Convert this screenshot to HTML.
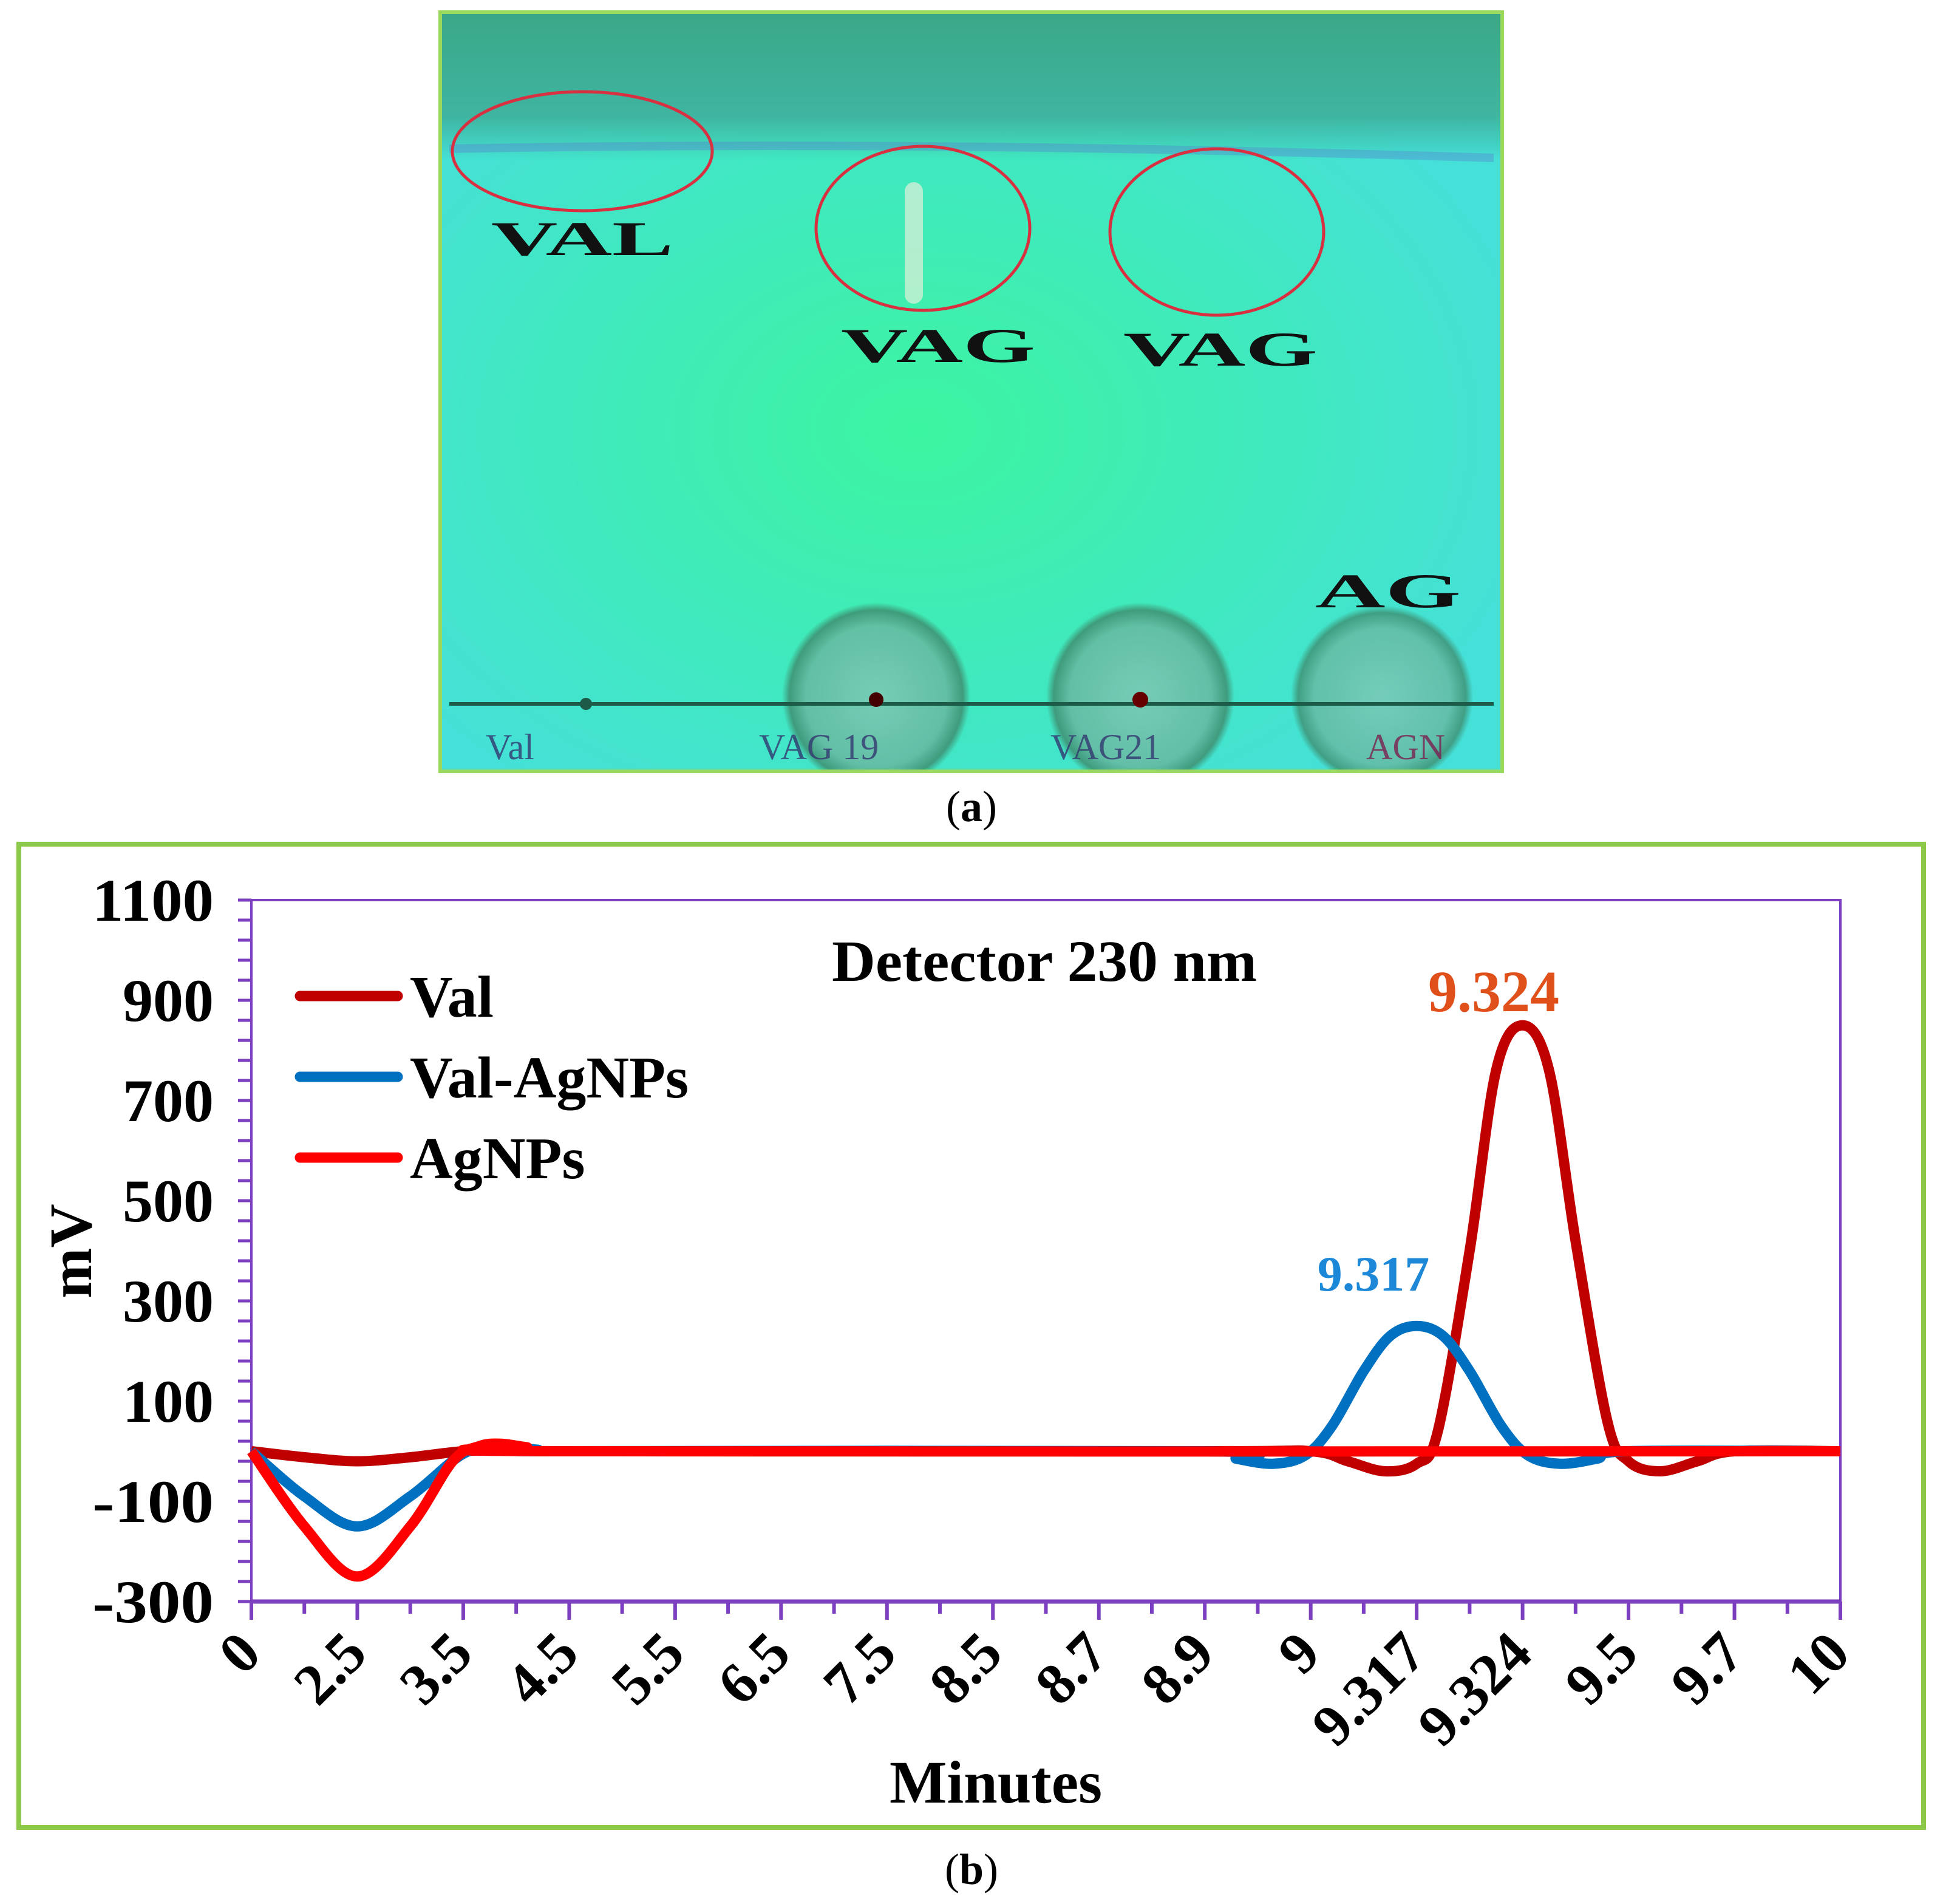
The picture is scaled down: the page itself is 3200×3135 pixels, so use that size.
<!DOCTYPE html>
<html><head><meta charset="utf-8">
<style>
html,body{margin:0;padding:0;background:#fff;width:3200px;height:3135px;overflow:hidden}
svg text{font-family:"Liberation Serif",serif}
</style></head>
<body>
<svg width="3200" height="3135" viewBox="0 0 3200 3135" xmlns="http://www.w3.org/2000/svg">
<defs>
<radialGradient id="glow" cx="0.45" cy="0.55" r="0.6">
<stop offset="0" stop-color="#3cf5a0"/><stop offset="0.6" stop-color="#40e8c0"/><stop offset="1" stop-color="#45e0d8"/>
</radialGradient>
<linearGradient id="topband" x1="0" y1="0" x2="0" y2="1">
<stop offset="0" stop-color="#3aa888"/><stop offset="0.7" stop-color="#3fb4a0"/><stop offset="1" stop-color="#3fb4a0" stop-opacity="0"/>
</linearGradient>
<radialGradient id="disc"><stop offset="0" stop-color="#80c8b4"/><stop offset="0.75" stop-color="#68b8a0"/><stop offset="0.92" stop-color="#3f8e70"/><stop offset="1" stop-color="#3f8e70" stop-opacity="0"/></radialGradient>
<clipPath id="photoclip"><rect x="725" y="20" width="1749" height="1250"/></clipPath>
</defs>
<g>
<rect x="725" y="20" width="1749" height="1250" fill="url(#glow)"/>
<g clip-path="url(#photoclip)">
<rect x="728" y="23" width="1743" height="240" fill="url(#topband)"/>
<path d="M740 245 Q1500 230 2460 260" stroke="#5a78d0" stroke-width="14" fill="none" opacity="0.35"/>
<circle cx="1443" cy="1147" r="155" fill="url(#disc)" opacity="0.85"/>
<circle cx="1878" cy="1147" r="155" fill="url(#disc)" opacity="0.85"/>
<circle cx="2276" cy="1147" r="150" fill="url(#disc)" opacity="0.8"/>
<line x1="740" y1="1159" x2="2460" y2="1159" stroke="#1d5a48" stroke-width="6"/>
<circle cx="965" cy="1159" r="10" fill="#1d5a48"/>
<circle cx="1443" cy="1152" r="12" fill="#400"/>
<circle cx="1878" cy="1152" r="13" fill="#600"/>
<rect x="1490" y="300" width="30" height="200" fill="#fff0e0" opacity="0.6" rx="15"/>
</g>
<rect x="725" y="20" width="1749" height="1250" fill="none" stroke="#9ad860" stroke-width="6"/>
<ellipse cx="959" cy="249" rx="214" ry="98" fill="none" stroke="#d83040" stroke-width="5"/>
<ellipse cx="1520" cy="376" rx="176" ry="135" fill="none" stroke="#d83040" stroke-width="5"/>
<ellipse cx="2004" cy="382" rx="176" ry="137" fill="none" stroke="#d83040" stroke-width="5"/>
<text x="959" y="420" font-size="80" font-weight="bold" text-anchor="middle" fill="#111" textLength="300" lengthAdjust="spacingAndGlyphs">VAL</text>
<text x="1545" y="596" font-size="80" font-weight="bold" text-anchor="middle" fill="#111" textLength="320" lengthAdjust="spacingAndGlyphs">VAG</text>
<text x="2010" y="602" font-size="80" font-weight="bold" text-anchor="middle" fill="#111" textLength="320" lengthAdjust="spacingAndGlyphs">VAG</text>
<text x="2286" y="1000" font-size="80" font-weight="bold" text-anchor="middle" fill="#111" textLength="240" lengthAdjust="spacingAndGlyphs">AG</text>
<text x="800" y="1250" font-size="60" fill="#333870" opacity="0.8">Val</text>
<text x="1250" y="1250" font-size="60" fill="#333870" opacity="0.8">VAG 19</text>
<text x="1730" y="1250" font-size="60" fill="#333870" opacity="0.8">VAG21</text>
<text x="2250" y="1250" font-size="60" fill="#7a2050" opacity="0.8">AGN</text>
</g>
<text x="1600" y="1352" font-size="72" text-anchor="middle">(<tspan font-weight="bold">a</tspan>)</text>
<rect x="31" y="1390" width="3137" height="1619" fill="#fff" stroke="#8cc84a" stroke-width="8"/>
<g id="chart"></g>
<text x="1600" y="3102" font-size="72" text-anchor="middle">(<tspan font-weight="bold">b</tspan>)</text>
</svg>
<script>
const categories=["0","2.5","3.5","4.5","5.5","6.5","7.5","8.5","8.7","8.9","9","9.317","9.324","9.5","9.7","10"];
const yTicks=[-300,-100,100,300,500,700,900,1100];
const valIdx=[0,0.5,1,1.5,2,2.5,3,9,10,10.35,10.7,11,11.2,11.5,11.75,12,12.25,12.5,12.8,13,13.3,13.65,14,15];
const valY=[0,-12,-20,-12,0,3,0,0,0,-20,-40,-25,40,400,760,850,760,420,60,-20,-40,-20,0,0];
const blueIdx=[0,0.5,1,1.5,2,2.35,2.7,3,9,9.3,9.65,9.95,10.2,10.5,10.75,11,11.25,11.5,11.8,12.05,12.35,12.7,13,15];
const blueY=[0,-90,-150,-90,-5,8,3,0,0,-15,-25,-8,50,160,230,250,230,160,50,-8,-25,-15,0,0];
const redIdx=[0,0.5,1,1.5,1.9,2.15,2.35,2.6,3,15];
const redY=[0,-150,-250,-150,-20,10,15,8,0,0];
const NS="http://www.w3.org/2000/svg";
const g=document.getElementById('chart');
const L=414,R=3031,T=1482,B=2637,ymin=-300,ymax=1100;
const X=i=>L+(R-L)*i/(categories.length-1);
const Y=v=>B-(B-T)*(v-ymin)/(ymax-ymin);
function el(tag,attrs,parent){const e=document.createElementNS(NS,tag);for(const k in attrs)e.setAttribute(k,attrs[k]);(parent||g).appendChild(e);return e;}
const purple="#7b3fc0";
const fr=el('rect',{x:L,y:T,width:R-L,height:B-T,fill:'none',stroke:purple,'stroke-width':4});


for(let v=ymin;v<=ymax;v+=40){
 const t=el('line',{x1:L-22,x2:L,y1:Y(v),y2:Y(v),stroke:purple,'stroke-width':5});
 
 
}
yTicks.forEach(v=>{
 const t=el('text',{x:L-62,y:Y(v)+34,'font-size':100,'font-weight':'bold','text-anchor':'end',textLength:v==1100||v<0?200:150,lengthAdjust:'spacingAndGlyphs'});
 t.textContent=v;
 
 
});
const xa=el('line',{x1:L,x2:R,y1:B,y2:B,stroke:purple,'stroke-width':7});


for(let i=0;i<categories.length;i++){
 const tk=el('line',{x1:X(i),x2:X(i),y1:B,y2:B+30,stroke:purple,'stroke-width':6});
 
 
 if(i<categories.length-1){
  const mt=el('line',{x1:X(i+0.5),x2:X(i+0.5),y1:B,y2:B+20,stroke:purple,'stroke-width':6});
  
  
 }
 const tx=el('text',{x:X(i)+20,y:B+90,'font-size':96,'font-weight':'bold','text-anchor':'end',transform:`rotate(-45 ${X(i)+20} ${B+90})`});
 tx.textContent=categories[i];
 
 
}
function path(ix,vy){
 const p=ix.map((x,k)=>[X(x),Y(vy[k])]);
 let d=`M${p[0][0]},${p[0][1]}`;
 for(let k=0;k<p.length-1;k++){
  const p0=p[k-1]||p[k],p1=p[k],p2=p[k+1],p3=p[k+2]||p2;
  const c1=[p1[0]+(p2[0]-p0[0])/6,p1[1]+(p2[1]-p0[1])/6];
  const c2=[p2[0]-(p3[0]-p1[0])/6,p2[1]-(p3[1]-p1[1])/6];
  d+=` C${c1[0]},${c1[1]} ${c2[0]},${c2[1]} ${p2[0]},${p2[1]}`;
 }
 return d;
}
const s1=el('path',{d:path(valIdx,valY),fill:'none',stroke:'#c00000','stroke-width':17,'stroke-linejoin':'round'});


const s2=el('path',{d:path(blueIdx,blueY),fill:'none',stroke:'#0070c0','stroke-width':17,'stroke-linejoin':'round'});


const s3=el('path',{d:path(redIdx,redY),fill:'none',stroke:'#ff0000','stroke-width':17,'stroke-linejoin':'round'});


function txt(name,x,y,s,attrs){const t=el('text',Object.assign({x:x,y:y,'font-weight':'bold'},attrs));t.textContent=s;return t;}
txt('chart-title',1720,1615,'Detector 230 nm',{'font-size':96,'text-anchor':'middle',textLength:700,lengthAdjust:'spacingAndGlyphs'});
txt('peak-label-9324',2460,1665,'9.324',{'font-size':96,'text-anchor':'middle',fill:'#e0501a'});
txt('peak-label-9317',2262,2125,'9.317',{'font-size':82,'text-anchor':'middle',fill:'#1e88d8'});
txt('y-axis-title',150,2060,'mV',{'font-size':100,'text-anchor':'middle',transform:'rotate(-90 150 2060)'});
txt('x-axis-title',1640,2968,'Minutes',{'font-size':100,'text-anchor':'middle'});
const leg=[['Val','#c00000',1640],['Val-AgNPs','#0070c0',1773],['AgNPs','#ff0000',1906]];
leg.forEach(([n,c,y])=>{
 const ln=el('line',{x1:494,x2:655,y1:y,y2:y,stroke:c,'stroke-width':17,'stroke-linecap':'round'});
 
 
 const t=el('text',{x:675,y:y+34,'font-size':98,'font-weight':'bold'});
 t.textContent=n;
 
 
});
</script>
</body></html>
